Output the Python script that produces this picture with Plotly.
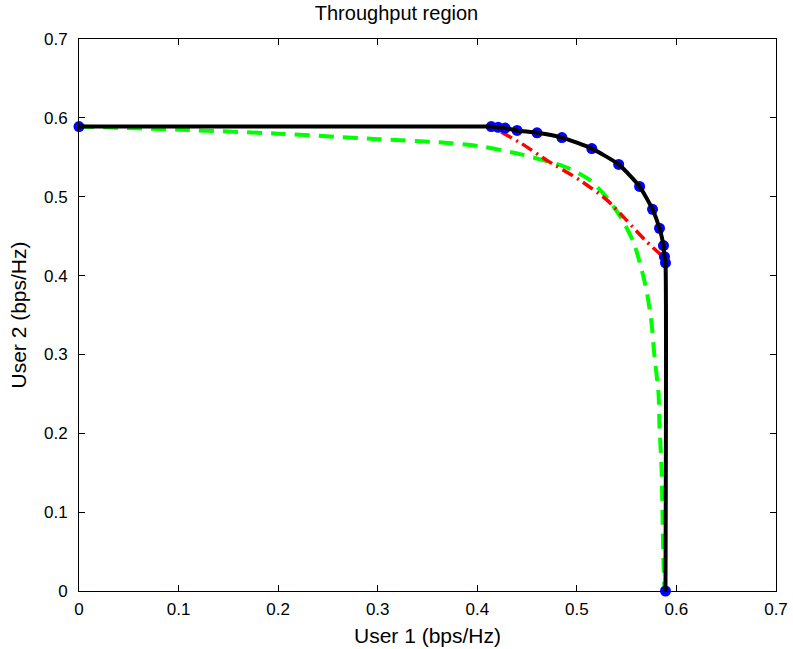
import plotly.graph_objects as go

# Black boundary (outer region) through the operating points
black_x = [0.0, 0.414, 0.421, 0.428, 0.440, 0.460, 0.485, 0.515, 0.542, 0.563, 0.576, 0.583, 0.587, 0.588, 0.589, 0.589]
black_y = [0.589, 0.589, 0.588, 0.587, 0.584, 0.581, 0.575, 0.561, 0.541, 0.513, 0.484, 0.460, 0.438, 0.424, 0.416, 0.0]

# Blue operating points
dot_x = [0.0, 0.414, 0.421, 0.428, 0.440, 0.460, 0.485, 0.515, 0.542, 0.563, 0.576, 0.583, 0.587, 0.588, 0.589, 0.589]
dot_y = [0.589, 0.589, 0.588, 0.587, 0.584, 0.581, 0.575, 0.561, 0.541, 0.513, 0.484, 0.460, 0.438, 0.424, 0.416, 0.0]

# Red dash-dot curve
red_x = [0.424, 0.445, 0.470, 0.503, 0.530, 0.550, 0.570, 0.583, 0.587]
red_y = [0.582, 0.567, 0.546, 0.521, 0.496, 0.470, 0.443, 0.428, 0.424]

# Green dashed curve
green_x = [0.0, 0.10, 0.20, 0.30, 0.362, 0.403, 0.446, 0.488, 0.512, 0.530, 0.545, 0.557, 0.565, 0.570, 0.575, 0.578, 0.582, 0.583, 0.585, 0.586, 0.587, 0.588]
green_y = [0.589, 0.585, 0.580, 0.573, 0.569, 0.564, 0.553, 0.538, 0.522, 0.499, 0.472, 0.442, 0.408, 0.381, 0.340, 0.297, 0.251, 0.208, 0.158, 0.099, 0.035, 0.0]

x_ticks = [0, 0.1, 0.2, 0.3, 0.4, 0.5, 0.6, 0.7]
y_ticks = [0, 0.1, 0.2, 0.3, 0.4, 0.5, 0.6, 0.7]
tick_text = ["0", "0.1", "0.2", "0.3", "0.4", "0.5", "0.6", "0.7"]

FONT = "Liberation Sans, Arial, sans-serif"

fig = go.Figure()
fig.add_trace(go.Scatter(x=green_x, y=green_y, mode="lines",
                         line=dict(color="#00ff00", width=4, dash="15px,9px",
                                   shape="spline", smoothing=0.7),
                         showlegend=False))
fig.add_trace(go.Scatter(x=red_x, y=red_y, mode="lines",
                         line=dict(color="#ff0000", width=3.5, dash="12px,5px,2px,5px",
                                   shape="spline", smoothing=0.6),
                         showlegend=False))
fig.add_trace(go.Scatter(x=dot_x, y=dot_y, mode="markers",
                         marker=dict(color="#0000ff", size=11),
                         cliponaxis=False, showlegend=False))
fig.add_trace(go.Scatter(x=black_x, y=black_y, mode="lines",
                         line=dict(color="#000000", width=4, shape="spline", smoothing=0.5),
                         cliponaxis=False, showlegend=False))

axis_common = dict(
    showgrid=False, zeroline=False, showline=True, linecolor="#000000", linewidth=1,
    mirror="ticks", ticks="inside", ticklen=6, tickcolor="#000000", tickwidth=1,
    tickfont=dict(family=FONT, size=17, color="#000000"), automargin=False,
)

fig.update_layout(
    width=793, height=649,
    margin=dict(l=79, r=17, t=39, b=58),
    paper_bgcolor="#ffffff", plot_bgcolor="#ffffff",
    title=dict(text="Throughput region", x=0.5, xanchor="center", y=0.98, yanchor="middle",
               font=dict(family=FONT, size=20, color="#000000")),
    xaxis=dict(range=[0, 0.7], tickvals=x_ticks, ticktext=tick_text, ticklabelstandoff=3,
               title=dict(text="User 1 (bps/Hz)", standoff=9,
                          font=dict(family=FONT, size=21, color="#000000")),
               **axis_common),
    yaxis=dict(range=[0, 0.7], tickvals=y_ticks, ticktext=tick_text, ticklabelstandoff=7,
               title=dict(text="User 2 (bps/Hz)", standoff=11,
                          font=dict(family=FONT, size=21, color="#000000")),
               **axis_common),
)

fig.write_html("out.html", config={"displayModeBar": False},
               post_script="document.body.style.margin='0px';")
